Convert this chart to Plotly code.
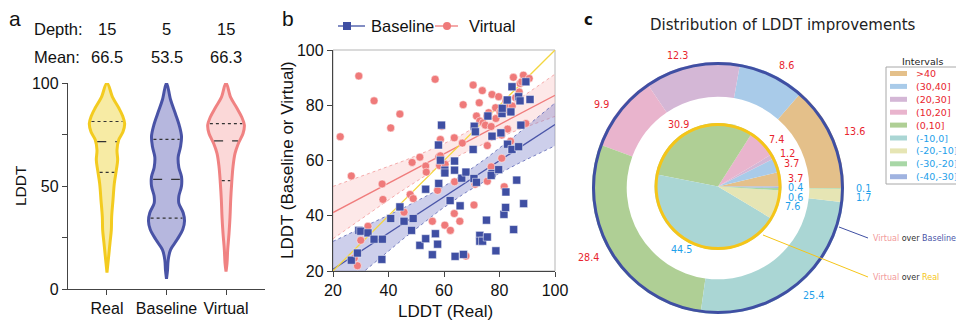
import numpy as np
import plotly.graph_objects as go

W, H = 956, 320
def px(x): return x / W
def py(y): return 1 - y / H

ARIAL = "Liberation Sans, Arial"
DEJAVU = "DejaVu Sans"

# ---------------- panel a : violin profiles (LDDT level, half width)
groups = ["Real", "Baseline", "Virtual"]
depth_vals = ["15", "5", "15"]
mean_vals = ["66.5", "53.5", "66.3"]
real_lddt = [100, 93, 88, 84, 80.3, 76.3, 72.3, 67.4, 62.6, 57.7, 51.3, 43.2, 35, 28.7, 22.3, 15.8, 8]
real_dens = [0, 17, 35, 47, 53, 48, 35, 30, 32, 28, 22, 18, 14, 13, 9, 5, 0]
base_lddt = [100, 92, 85, 79, 74, 69, 64, 59, 54.5, 50, 45, 41.6, 37, 33, 29, 24, 19, 14, 9, 5]
base_dens = [0, 12, 27, 39, 45, 42, 35, 37, 45, 45, 37, 37, 50, 54, 49, 32, 12, 5, 3, 0]
virt_lddt = [100, 93, 88, 83.5, 79.5, 75.5, 70.6, 65.8, 59.4, 51.3, 43.2, 35, 27, 19, 12.6, 8.5]
virt_dens = [0, 14, 32, 47, 55, 51, 37, 27, 21, 17, 14, 12, 9, 5, 3, 0]
real_quart = [56.6, 71.5, 81.3]
base_quart = [34.4, 53.2, 72.6]
virt_quart = [52.6, 71.9, 80.3]

# ---------------- panel b : scatter (LDDT real vs baseline / virtual)
virt_x = [22.6, 26.6, 29.3, 34.8, 44.1, 40.8, 37.7, 38.0, 48.5, 51.3, 47.8, 48.9, 45.6, 32.6, 30.0,
          27.7, 28.8, 53.4, 53.6, 56.8, 57.7, 55.8, 58.1, 58.7, 58.7, 59.2, 58.4, 60.4, 60.3, 62.3,
          63.7, 63.8, 63.7, 66.6, 65.7, 66.9, 67.9, 70.5, 70.8, 70.8, 71.2, 71.7, 72.7, 73.8, 72.9,
          74.1, 74.9, 75.5, 75.6, 75.6, 76.1, 77.0, 77.0, 77.3, 78.6, 78.7, 79.7, 80.2, 80.8, 80.8,
          81.7, 81.8, 82.3, 82.9, 83.2, 84.0, 84.6, 85.0, 85.8, 86.8, 87.1, 87.4, 88.0, 88.6, 89.5,
          90.7]
virt_y = [68.6, 54.4, 90.6, 81.6, 76.8, 71.8, 51.5, 45.9, 59.3, 61.2, 47.7, 46.2, 41.3, 36.2, 31.1,
          24.7, 21.9, 58.0, 55.8, 89.4, 49.2, 38.0, 61.3, 61.7, 67.6, 72.4, 58.2, 58.6, 36.6, 34.7,
          40.8, 52.3, 68.2, 66.3, 38.0, 80.2, 25.4, 87.3, 72.0, 43.9, 51.4, 76.1, 80.9, 85.3, 74.3,
          73.7, 72.8, 76.1, 65.4, 52.5, 77.3, 72.3, 57.7, 83.9, 79.1, 75.2, 83.1, 77.6, 69.2, 60.8,
          50.5, 78.2, 81.5, 71.4, 79.7, 67.0, 79.7, 90.1, 82.7, 82.2, 84.8, 87.9, 88.5, 90.9, 73.4,
          89.7]
base_x = [26.6, 28.8, 29.3, 30.0, 32.6, 34.8, 37.8, 37.6, 40.8, 44.1, 45.6, 48.3, 48.9, 51.3, 53.4,
          53.4, 55.8, 56.9, 57.7, 58.0, 58.1, 58.7, 59.1, 60.3, 60.3, 62.2, 63.8, 63.8, 64.0, 65.8,
          66.4, 67.9, 67.0, 70.5, 70.8, 70.9, 71.3, 71.7, 72.9, 72.9, 73.9, 75.3, 75.6, 75.8, 77.3,
          77.3, 77.0, 78.7, 79.7, 80.5, 80.9, 81.0, 81.6, 82.2, 82.3, 82.8, 82.9, 84.1, 84.5, 84.5,
          85.1, 86.2, 86.9, 86.9, 87.4, 87.7, 88.7, 89.5, 91.0]
base_y = [23.9, 26.5, 34.7, 34.4, 33.8, 31.5, 31.5, 24.2, 39.0, 43.2, 38.0, 34.7, 39.0, 29.3, 31.7,
          49.6, 25.9, 33.5, 29.7, 65.6, 51.7, 60.1, 72.8, 56.5, 55.5, 45.5, 59.8, 56.5, 25.3, 43.6,
          53.6, 55.8, 26.0, 64.0, 53.5, 72.4, 70.4, 52.1, 32.9, 30.8, 30.8, 38.4, 32.3, 76.1, 68.8,
          55.3, 54.6, 27.3, 56.7, 70.0, 77.0, 78.9, 40.5, 43.0, 48.6, 81.9, 65.9, 77.6, 86.7, 64.0,
          35.0, 52.9, 65.0, 83.1, 81.6, 72.8, 44.4, 88.5, 82.1]
axis_ticks_b = [20, 40, 60, 80, 100]

# ---------------- panel c : LDDT improvement distribution (%)
intervals = [">40", "(30,40]", "(20,30]", "(10,20]", "(0,10]", "(-10,0]", "(-20,-10]", "(-30,-20]", "(-40,-30]"]
interval_colors = ["#e4c08a", "#a9cbe9", "#d4b7d6", "#e9b4cd", "#afcf95", "#aad6d4", "#e6e5b4", "#a8d7a6", "#a0b3e0"]
outer_vals = [13.6, 8.6, 12.3, 9.9, 28.4, 25.4, 1.7, 0.1, 0.0]   # Virtual over Baseline
inner_vals = [3.7, 3.7, 1.2, 7.4, 30.9, 44.5, 7.6, 0.6, 0.4]     # Virtual over Real

RED_T, BLUE_T = "#e8242e", "#1ea0ea"
fig = go.Figure()
annotations = []
shapes = []

def ann(x, y, text, size, family=ARIAL, color="#111", xanchor="center", yanchor="middle", xref="paper", **kw):
    annotations.append(dict(x=px(x) if xref == "paper" else x, y=py(y), xref=xref, yref="paper", text=text,
                            showarrow=False, xanchor=xanchor, yanchor=yanchor,
                            font=dict(family=family, size=size, color=color), **kw))

# ---------- violins
WSCALE = 1 / 178.5
line_cols = ["#f3cb1f", "#4953a6", "#f08282"]
fill_cols = ["#f7eba4", "#b6b7de", "#fbd8d8"]
profiles = [(real_lddt, real_dens, real_quart), (base_lddt, base_dens, base_quart), (virt_lddt, virt_dens, virt_quart)]
for i, (yy, dd, qq) in enumerate(profiles):
    yy = np.array(yy, float)
    dd = np.array(dd, float) * WSCALE
    xs = np.concatenate([i + dd, (i - dd)[::-1]])
    ys = np.concatenate([yy, yy[::-1]])
    fig.add_trace(go.Scatter(x=xs, y=ys, mode="lines", fill="toself", fillcolor=fill_cols[i],
                             line=dict(color=line_cols[i], width=3, shape="spline", smoothing=1),
                             xaxis="x", yaxis="y", showlegend=False, hoverinfo="skip"))
    for k, q in enumerate(qq):
        hw = max(np.interp(q, yy[::-1], dd[::-1]) - 5 * WSCALE, 0)
        fig.add_trace(go.Scatter(x=[i - hw, i + hw], y=[q, q], mode="lines",
                                 line=dict(color="#333333", width=1.2, dash="dash" if k == 1 else "dot"),
                                 xaxis="x", yaxis="y", showlegend=False, hoverinfo="skip"))

# ---------- scatter with fits
def fit_band(x, y, xs):
    x = np.asarray(x, float); y = np.asarray(y, float)
    n = len(x)
    b, a = np.polyfit(x, y, 1)
    yhat = a + b * xs
    s = np.sqrt(np.sum((y - (a + b * x)) ** 2) / (n - 2))
    sxx = np.sum((x - x.mean()) ** 2)
    se = s * np.sqrt(1 / n + (xs - x.mean()) ** 2 / sxx)
    return yhat, yhat - 1.99 * se, yhat + 1.99 * se

xs = np.linspace(20, 100, 81)
for (x, y, fcol, lcol, ecol) in [(virt_x, virt_y, "rgba(250,190,190,0.35)", "#f07c7c", "rgba(240,140,140,0.7)"),
                                 (base_x, base_y, "rgba(130,135,205,0.40)", "#4a55a8", "rgba(90,100,180,0.8)")]:
    yh, lo, hi = fit_band(x, y, xs)
    fig.add_trace(go.Scatter(x=xs, y=lo, mode="lines", line=dict(color=ecol, width=1, dash="dot"),
                             xaxis="x2", yaxis="y2", showlegend=False, hoverinfo="skip"))
    fig.add_trace(go.Scatter(x=xs, y=hi, mode="lines", line=dict(color=ecol, width=1, dash="dot"),
                             fill="tonexty", fillcolor=fcol, xaxis="x2", yaxis="y2", showlegend=False, hoverinfo="skip"))
    fig.add_trace(go.Scatter(x=xs, y=yh, mode="lines", line=dict(color=lcol, width=1.3),
                             xaxis="x2", yaxis="y2", showlegend=False, hoverinfo="skip"))

fig.add_trace(go.Scatter(x=[20, 100], y=[20, 100], mode="lines", line=dict(color="#f3d640", width=1.3),
                         xaxis="x2", yaxis="y2", showlegend=False, hoverinfo="skip"))
fig.add_trace(go.Scatter(x=virt_x, y=virt_y, mode="markers", name="Virtual",
                         marker=dict(symbol="circle", size=8, color="#ef7a7a", line=dict(width=0.5, color="white")),
                         xaxis="x2", yaxis="y2", showlegend=False))
fig.add_trace(go.Scatter(x=base_x, y=base_y, mode="markers", name="Baseline",
                         marker=dict(symbol="square", size=8, color="#3f4fa3", line=dict(width=0.5, color="white")),
                         xaxis="x2", yaxis="y2", showlegend=False))

# ---------- pies
outer_dom = dict(x=[px(592), px(844)], y=[py(314), py(62)])
inner_dom = dict(x=[px(654.5), px(781.5)], y=[py(250), py(123)])
common = dict(sort=False, direction="counterclockwise", textinfo="none", hoverinfo="skip", showlegend=False)
def rot(vals):
    return 90 - 360 * vals[0] / sum(vals)
fig.add_trace(go.Pie(labels=intervals, values=outer_vals, hole=91.3 / 126, domain=outer_dom, rotation=rot(outer_vals),
                     marker=dict(colors=interval_colors, line=dict(width=0)), **common))
fig.add_trace(go.Pie(labels=["o"], values=[1], hole=1 - 3 / 126, domain=outer_dom, rotation=0,
                     marker=dict(colors=["#3f4fa3"], line=dict(width=0)), **common))
fig.add_trace(go.Pie(labels=intervals, values=inner_vals, domain=inner_dom, rotation=rot(inner_vals),
                     marker=dict(colors=interval_colors, line=dict(width=0)), **common))
fig.add_trace(go.Pie(labels=["i"], values=[1], hole=1 - 3 / 63.5, domain=inner_dom, rotation=0,
                     marker=dict(colors=["#f5c518"], line=dict(width=0)), **common))

def pie_labels(vals, cx, cy, r):
    tot = sum(vals)
    cum = 0
    items = []
    for k, v in enumerate(vals):
        if v > 0:
            th = np.deg2rad(360 * (cum + v / 2) / tot)
            items.append([cx + r * np.cos(th), cy - r * np.sin(th), np.cos(th), k, v])
        cum += v
    right = sorted([it for it in items if it[2] > 0.5], key=lambda t: t[1])
    for a in range(1, len(right)):
        if right[a][1] < right[a - 1][1] + 9.2:
            right[a][1] = right[a - 1][1] + 9.2
    for x, y, c, k, v in items:
        ann(x, y, f"{v:.1f}", 9.6, DEJAVU, RED_T if k < 5 else BLUE_T, xanchor="left" if c > 0 else "right")
pie_labels(outer_vals, 718, 188, 136)
pie_labels(inner_vals, 718, 186.5, 68)

# pie legend
shapes.append(dict(type="rect", xref="paper", yref="paper", x0=px(886), x1=px(960), y0=py(184), y1=py(67),
                   line=dict(color="#a8a8a8", width=1)))
ann(922, 61, "Intervals", 9.5, DEJAVU, "#222")
for k, name in enumerate(intervals):
    yc = 73.5 + 12.9 * k
    shapes.append(dict(type="rect", xref="paper", yref="paper", x0=px(890), x1=px(907), y0=py(yc + 2.5), y1=py(yc - 2.5),
                       fillcolor=interval_colors[k], line=dict(width=0)))
    ann(914, yc, name, 9.5, DEJAVU, RED_T if k < 5 else BLUE_T, xanchor="left")
# callouts
shapes.append(dict(type="line", xref="paper", yref="paper", x0=px(839), y0=py(227), x1=px(868), y1=py(238),
                   line=dict(color="#3f4fa3", width=1)))
shapes.append(dict(type="line", xref="paper", yref="paper", x0=px(763), y0=py(235), x1=px(868), y1=py(277),
                   line=dict(color="#f5c518", width=1)))
ann(871, 238, "<span style='color:#f29a9a'>Virtual</span> over <span style='color:#4a55a8'>Baseline</span>",
    8, DEJAVU, "#333", xanchor="left")
ann(871, 277, "<span style='color:#f29a9a'>Virtual</span> over <span style='color:#f5c518'>Real</span>",
    8, DEJAVU, "#333", xanchor="left")
ann(783, 25, "Distribution of LDDT improvements", 15, DEJAVU, "#222")
ann(588, 20, "<b>c</b>", 15, DEJAVU, "#111")

# panel a texts
ann(15, 19, "a", 21)
for lab, vals, yy in [("Depth:", depth_vals, 29), ("Mean:", mean_vals, 57)]:
    ann(32, yy, lab, 16.5, xanchor="left")
    for i, v in enumerate(vals):
        ann(i, yy, v, 16.5, xref="x")
ann(20, 186, "LDDT", 15.5, textangle=-90)
# panel b texts
ann(288, 18, "b", 21)
ann(287, 160, "LDDT (Baseline or Virtual)", 17, textangle=-90)
ann(445, 311, "LDDT (Real)", 17)
# scatter legend
shapes.append(dict(type="line", xref="paper", yref="paper", x0=px(338), x1=px(365), y0=py(26), y1=py(26),
                   line=dict(color="#3f4fa3", width=1.3)))
shapes.append(dict(type="rect", xref="paper", yref="paper", x0=px(343), x1=px(351), y0=py(30), y1=py(22),
                   fillcolor="#3f4fa3", line=dict(width=0)))
ann(369, 26, "Baseline", 16.5, xanchor="left")
shapes.append(dict(type="line", xref="paper", yref="paper", x0=px(435), x1=px(458), y0=py(26), y1=py(26),
                   line=dict(color="#ef7a7a", width=1.3)))
shapes.append(dict(type="circle", xref="paper", yref="paper", x0=px(443), x1=px(451), y0=py(30), y1=py(22),
                   fillcolor="#ef7a7a", line=dict(width=0)))
ann(467, 26, "Virtual", 16.5, xanchor="left")
# scatter frame
shapes.append(dict(type="rect", xref="x2 domain", yref="y2 domain", x0=0, x1=1, y0=0, y1=1,
                   line=dict(color="#b5b5b5", width=1), layer="below"))

axis_common = dict(showgrid=False, zeroline=False, ticks="outside", ticklen=5, tickwidth=1.3, tickcolor="#444",
                   showline=True, linecolor="#444", linewidth=1.4, automargin=False,
                   tickfont=dict(family=ARIAL, size=16, color="#111"), fixedrange=True)
fig.update_layout(
    width=W, height=H, margin=dict(l=0, r=0, t=0, b=0, autoexpand=False),
    paper_bgcolor="white", plot_bgcolor="rgba(0,0,0,0)",
    xaxis=dict(domain=[px(68), px(265)], range=[-0.655, 2.655], tickvals=[0, 1, 2], ticktext=groups,
               anchor="y", **axis_common),
    yaxis=dict(domain=[py(289), py(83)], range=[0, 100], tickvals=[0, 25, 50, 75, 100],
               ticktext=["0", "", "50", "", "100"], anchor="x", **axis_common),
    xaxis2=dict(domain=[px(333), px(555)], range=[20, 100], tickvals=axis_ticks_b, anchor="y2", **axis_common),
    yaxis2=dict(domain=[py(271), py(50)], range=[20, 100], tickvals=axis_ticks_b, anchor="x2", **axis_common),
    showlegend=False, annotations=annotations, shapes=shapes,
)
fig.write_html("out.html", config={"displayModeBar": False},
               post_script="document.body.style.margin='0px';document.body.style.overflow='hidden';")
